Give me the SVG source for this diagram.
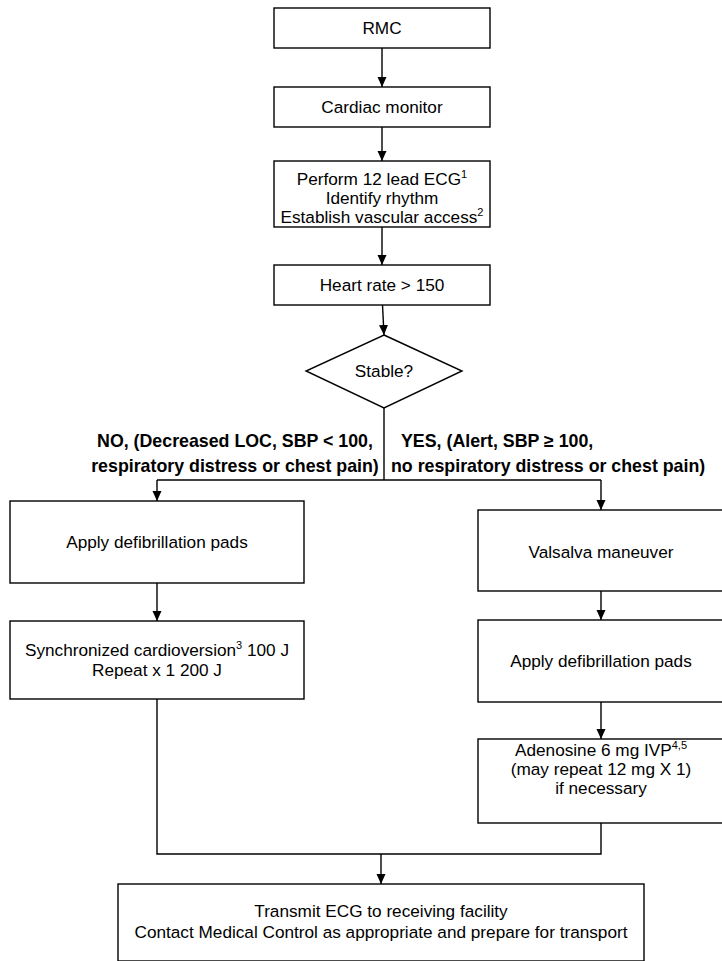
<svg xmlns="http://www.w3.org/2000/svg" width="722" height="961" viewBox="0 0 722 961">
<defs>
<marker id="ah" markerWidth="10" markerHeight="10" refX="10" refY="5" orient="auto" markerUnits="userSpaceOnUse">
<path d="M0,0.5 L10,5 L0,9.5 Z" fill="#000"/>
</marker>
<style>
rect,polygon{fill:#fff;stroke:#000;stroke-width:1.4}
.c line,.c polyline{stroke:#000;stroke-width:1.4;fill:none}
.a{marker-end:url(#ah)}
text{font-family:"Liberation Sans",Arial,sans-serif;font-size:17.2px;fill:#000;text-anchor:middle}
.b{font-weight:bold;font-size:17.8px}
.sup{font-size:11px}
</style>
</defs>
<rect x="0" y="0" width="722" height="961" style="fill:#fff;stroke:none"/>
<g class="c" id="connectors">
<line class="a" x1="382" y1="48" x2="382" y2="87"/>
<line class="a" x1="382" y1="127" x2="382" y2="161"/>
<line class="a" x1="382" y1="227" x2="382" y2="265"/>
<line class="a" x1="382.5" y1="305" x2="384" y2="335"/>
<line x1="384" y1="408" x2="384" y2="480"/>
<line x1="157" y1="480" x2="601" y2="480"/>
<line class="a" x1="157" y1="480" x2="157" y2="501"/>
<line class="a" x1="601" y1="480" x2="601" y2="510"/>
<line class="a" x1="157" y1="583" x2="157" y2="621"/>
<line class="a" x1="601" y1="591" x2="601" y2="620"/>
<line class="a" x1="601" y1="702" x2="601" y2="739"/>
<polyline points="157,699 157,854 601,854 601,823"/>
<line class="a" x1="381" y1="854" x2="381" y2="884"/>
</g>
<g id="rmc"><rect x="274" y="8" width="216" height="40"/><text x="382" y="34">RMC</text></g>
<g id="cardiac"><rect x="274" y="87" width="216" height="40"/><text x="382" y="113">Cardiac monitor</text></g>
<g id="perform"><rect x="274" y="161" width="216" height="66"/>
<text x="382" y="185">Perform 12 lead ECG<tspan class="sup" dy="-7">1</tspan></text>
<text x="382" y="204">Identify rhythm</text>
<text x="382" y="223">Establish vascular access<tspan class="sup" dy="-7">2</tspan></text></g>
<g id="hr"><rect x="274" y="265" width="216" height="40"/><text x="382" y="291">Heart rate &gt; 150</text></g>
<g id="stable"><polygon points="384,335 462,371 384,408 306,371"/><text x="384" y="377">Stable?</text></g>
<g id="labels">
<text class="b" x="235" y="447">NO, (Decreased LOC, SBP &lt; 100,</text>
<text class="b" x="235" y="472">respiratory distress or chest pain)</text>
<text class="b" x="401" y="447" style="text-anchor:start">YES, (Alert, SBP ≥ 100,</text>
<text class="b" x="391" y="472" style="text-anchor:start">no respiratory distress or chest pain)</text>
</g>
<g id="pads1"><rect x="10" y="501" width="294" height="82"/><text x="157" y="548">Apply defibrillation pads</text></g>
<g id="sync"><rect x="10" y="621" width="294" height="78"/>
<text x="157" y="656">Synchronized cardioversion<tspan class="sup" dy="-7">3</tspan><tspan dy="7"> 100 J</tspan></text>
<text x="157" y="676">Repeat x 1 200 J</text></g>
<g id="valsalva"><rect x="478" y="510" width="246" height="81"/><text x="601" y="558">Valsalva maneuver</text></g>
<g id="pads2"><rect x="478" y="620" width="246" height="82"/><text x="601" y="667">Apply defibrillation pads</text></g>
<g id="adenosine"><rect x="478" y="739" width="246" height="84"/>
<text x="601" y="756">Adenosine 6 mg IVP<tspan class="sup" dy="-7">4,5</tspan></text>
<text x="601" y="775">(may repeat 12 mg X 1)</text>
<text x="601" y="794">if necessary</text></g>
<g id="transmit"><rect x="118" y="884" width="526" height="77"/>
<text x="381" y="917">Transmit ECG to receiving facility</text>
<text x="381" y="938">Contact Medical Control as appropriate and prepare for transport</text></g>
</svg>
